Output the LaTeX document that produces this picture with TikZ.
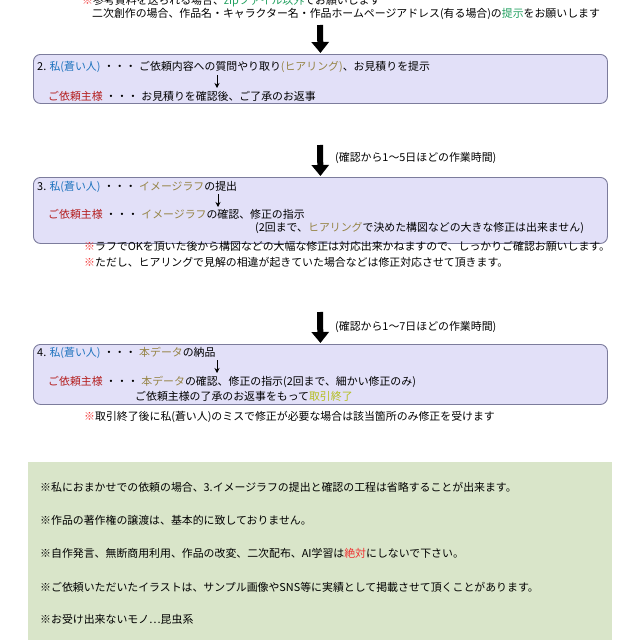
\documentclass[tikz,border=0pt]{standalone}
\usepackage{fontspec}
\setmainfont{Noto Sans CJK JP}
\usetikzlibrary{arrows.meta}
\definecolor{cblue}{HTML}{1E73BE}
\definecolor{colive}{HTML}{968446}
\definecolor{cdred}{HTML}{B41E1E}
\definecolor{cred}{HTML}{F03030}
\definecolor{cgreen}{HTML}{22A060}
\definecolor{cyel}{HTML}{B4BE1E}
\definecolor{boxfill}{HTML}{E2E0F8}
\definecolor{boxline}{HTML}{7C7C9C}
\definecolor{greenfill}{HTML}{D9E5C9}
\newcommand{\me}{{\color{cblue}私(蒼い人)}}
\newcommand{\cli}{{\color{cdred}ご依頼主様}}
\newcommand{\kome}{{\color{cred}※}}
\newcommand{\dts}{\hspace{3pt}・・・\hspace{3pt}}
\begin{document}
\begin{tikzpicture}[x=1pt,y=-1pt,
  txt/.style={anchor=west,inner sep=0pt,font=\fontsize{10.9}{12}\selectfont},
  stepbox/.style={draw=boxline,fill=boxfill,line width=0.9pt,rounded corners=7pt,anchor=north west,minimum width=574pt,inner sep=0pt},
  bigarrow/.style={line width=6pt,-{Triangle[width=17pt,length=11pt]},shorten >=1pt},
  smallarrow/.style={line width=0.8pt,-{Stealth[width=5pt,length=5pt]}}]
\useasboundingbox (0,0) rectangle (640,640);
\clip (0,0) rectangle (640,640);
% top text
\node[txt] (t1) at (82,1) {\kome 参考資料を送られる場合、{\color{cgreen}zipファイル以外}でお願いします};
\node[txt] (t2) at (92,14) {二次創作の場合、作品名・キャラクター名・作品ホームページアドレス(有る場合)の{\color{cgreen}提示}をお願いします};
% step 2
\node[stepbox,minimum height=49pt] (box2) at (33,54) {};
\coordinate (a1) at (320,25);
\draw[bigarrow] (a1) -- (box2.north);
\node[txt] (b2l1) at (37,67) {2. \me\dts ご依頼内容への質問やり取り{\color{colive}(ヒアリング)}、お見積りを提示};
\coordinate (s2a) at (217,75);
\coordinate (s2b) at (217,88);
\draw[smallarrow] (s2a) -- (s2b);
\node[txt] (b2l2) at (48,96) {\cli\dts お見積りを確認後、ご了承のお返事};
% step 3
\node[stepbox,minimum height=66pt] (box3) at (33,177) {};
\coordinate (a2) at (320,145);
\draw[bigarrow] (a2) -- (box3.north);
\node[txt] (l2) at (335,158) {(確認から1～5日ほどの作業時間)};
\node[txt] (b3l1) at (37,187) {3. \me\dts{\color{colive}イメージラフ}の提出};
\coordinate (s3a) at (218,194);
\coordinate (s3b) at (218,207);
\draw[smallarrow] (s3a) -- (s3b);
\node[txt] (b3l2) at (48,214) {\cli\dts{\color{colive}イメージラフ}の確認、修正の指示};
\node[txt] (b3l3) at (255,228) {(2回まで、{\color{colive}ヒアリング}で決めた構図などの大きな修正は出来ません)};
\node[txt] (n3a) at (84,246) {\kome ラフでOKを頂いた後から構図などの大幅な修正は対応出来かねますので、しっかりご確認お願いします。};
\node[txt] (n3b) at (84,262) {\kome ただし、ヒアリングで見解の相違が起きていた場合などは修正対応させて頂きます。};
% step 4
\node[stepbox,minimum height=60pt] (box4) at (33,344) {};
\coordinate (a3) at (320,312);
\draw[bigarrow] (a3) -- (box4.north);
\node[txt] (l3) at (335,327) {(確認から1～7日ほどの作業時間)};
\node[txt] (b4l1) at (37,353) {4. \me\dts{\color{colive}本データ}の納品};
\coordinate (s4a) at (217,360);
\coordinate (s4b) at (217,373);
\draw[smallarrow] (s4a) -- (s4b);
\node[txt] (b4l2) at (48,382) {\cli\dts{\color{colive}本データ}の確認、修正の指示(2回まで、細かい修正のみ)};
\node[txt] (b4l3) at (135,396) {ご依頼主様の了承のお返事をもって{\color{cyel}取引終了}};
\node[txt] (n4) at (84,417) {\kome 取引終了後に私(蒼い人)のミスで修正が必要な場合は該当箇所のみ修正を受けます};
% green box
\fill[greenfill] (28,462) rectangle (612,641);
\node[txt] (g1) at (40,487) {※私におまかせでの依頼の場合、3.イメージラフの提出と確認の工程は省略することが出来ます。};
\node[txt] (g2) at (40,520) {※作品の著作権の譲渡は、基本的に致しておりません。};
\node[txt] (g3) at (40,553) {※自作発言、無断商用利用、作品の改変、二次配布、AI学習は{\color{cred}絶対}にしないで下さい。};
\node[txt] (g4) at (40,587) {※ご依頼いただいたイラストは、サンプル画像やSNS等に実績として掲載させて頂くことがあります。};
\node[txt] (g5) at (40,619) {※お受け出来ないモノ…昆虫系};
\end{tikzpicture}
\end{document}
